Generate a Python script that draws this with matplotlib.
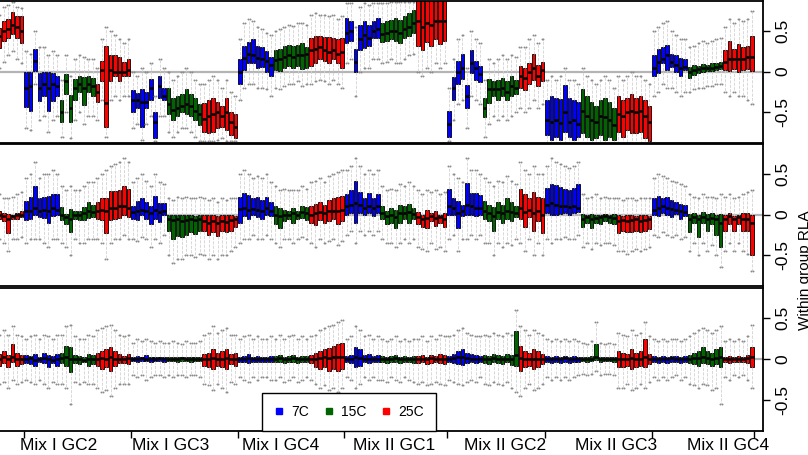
import numpy as np
import matplotlib.pyplot as plt
from matplotlib.lines import Line2D

plt.rcParams['font.family'] = ['Liberation Sans', 'DejaVu Sans']

groups = ['Mix I GC2', 'Mix I GC3', 'Mix I GC4', 'Mix II GC1',
          'Mix II GC2', 'Mix II GC3', 'Mix II GC4']
temps = ['7C', '15C', '25C']
temp_colors = ['blue', 'darkgreen', 'red']
label_x = [8.4, 33.4, 58.2, 83.6, 108.6, 133.6, 158.6]

# one row per sub-group: first row is the 25C tail of the group cut off at the left,
# then 7C / 15C / 25C for every group in `groups`

# ---- top panel ----
top_q3 = [
    [0.54, 0.62, 0.65, 0.74, 0.68, 0.68],
    [0.0, -0.01, 0.28, -0.02, -0.01, 0.0, -0.02, -0.05],
    [-0.35, -0.03, -0.29, -0.09, -0.05, -0.07, -0.06, -0.08],
    [-0.15, 0.13, 0.32, 0.2, 0.2, 0.18, 0.12, 0.15],
    [-0.23, -0.26, -0.21, -0.25, -0.09, -0.5, -0.05, -0.2],
    [-0.2, -0.32, -0.3, -0.28, -0.22, -0.28, -0.33, -0.4],
    [-0.39, -0.35, -0.33, -0.37, -0.43, -0.32, -0.5, -0.52],
    [0.16, 0.32, 0.36, 0.4, 0.32, 0.3, 0.25, 0.18],
    [0.26, 0.28, 0.31, 0.33, 0.31, 0.33, 0.35, 0.3],
    [0.42, 0.44, 0.44, 0.43, 0.43, 0.42, 0.4, 0.42],
    [0.66, 0.62, 0.28, 0.58, 0.62, 0.58, 0.62, 0.66],
    [0.6, 0.62, 0.64, 0.66, 0.64, 0.68, 0.72, 0.76],
    [0.95, 0.9, 0.95, 0.92, 0.95, 0.95, 0.92],
    [-0.48, -0.07, 0.13, 0.22, -0.17, 0.26, 0.13, 0.07],
    [-0.32, -0.09, -0.12, -0.1, -0.08, -0.12, -0.05, -0.1],
    [0.07, 0.05, 0.1, 0.22, 0.08, 0.12],
    [-0.35, -0.3, -0.33, -0.34, -0.17, -0.32, -0.35, -0.38],
    [-0.22, -0.3, -0.38, -0.42, -0.35, -0.32, -0.38, -0.45],
    [-0.3, -0.35, -0.33, -0.27, -0.32, -0.3, -0.35, -0.43],
    [0.2, 0.28, 0.3, 0.33, 0.22, 0.2, 0.17, 0.15],
    [0.06, 0.08, 0.07, 0.09, 0.08, 0.1, 0.1, 0.12],
    [0.26, 0.38, 0.28, 0.34, 0.3, 0.32, 0.44],
]
top_med = [
    [0.44, 0.5, 0.52, 0.58, 0.55, 0.5],
    [-0.2, -0.18, 0.13, -0.2, -0.15, -0.2, -0.15, -0.18],
    [-0.5, -0.12, -0.45, -0.2, -0.15, -0.2, -0.15, -0.18],
    [-0.25, 0.02, -0.39, 0.02, 0.0, 0.0, 0.0, 0.02],
    [-0.35, -0.35, -0.38, -0.37, -0.2, -0.62, -0.18, -0.3],
    [-0.4, -0.47, -0.45, -0.42, -0.4, -0.43, -0.48, -0.52],
    [-0.58, -0.55, -0.52, -0.5, -0.55, -0.5, -0.62, -0.68],
    [0.0, 0.17, 0.22, 0.2, 0.17, 0.16, 0.13, 0.08],
    [0.14, 0.16, 0.18, 0.2, 0.18, 0.2, 0.2, 0.22],
    [0.26, 0.28, 0.3, 0.26, 0.24, 0.26, 0.22, 0.24],
    [0.48, 0.5, 0.12, 0.4, 0.45, 0.42, 0.5, 0.52],
    [0.46, 0.48, 0.5, 0.5, 0.48, 0.52, 0.55, 0.6],
    [0.62, 0.55, 0.6, 0.58, 0.62, 0.62, 0.62],
    [-0.65, -0.2, 0.0, 0.05, -0.3, 0.1, 0.05, -0.03],
    [-0.45, -0.22, -0.22, -0.22, -0.2, -0.25, -0.18, -0.2],
    [-0.05, -0.08, 0.0, 0.05, -0.05, 0.02],
    [-0.6, -0.62, -0.6, -0.63, -0.5, -0.62, -0.6, -0.64],
    [-0.48, -0.55, -0.6, -0.62, -0.55, -0.56, -0.6, -0.66],
    [-0.52, -0.55, -0.5, -0.48, -0.5, -0.48, -0.55, -0.62],
    [0.05, 0.12, 0.15, 0.2, 0.12, 0.08, 0.04, 0.06],
    [0.0, 0.02, 0.03, 0.04, 0.05, 0.05, 0.06, 0.07],
    [0.12, 0.15, 0.15, 0.16, 0.16, 0.18, 0.18],
]
top_q1 = [
    [0.29, 0.38, 0.41, 0.46, 0.41, 0.35],
    [-0.44, -0.48, 0.01, -0.36, -0.3, -0.48, -0.36, -0.3],
    [-0.62, -0.27, -0.62, -0.35, -0.25, -0.41, -0.25, -0.3],
    [-0.38, -0.11, -0.68, -0.11, -0.05, -0.11, -0.06, -0.05],
    [-0.5, -0.45, -0.68, -0.45, -0.35, -0.82, -0.33, -0.35],
    [-0.52, -0.6, -0.55, -0.5, -0.52, -0.55, -0.6, -0.66],
    [-0.74, -0.76, -0.74, -0.7, -0.68, -0.72, -0.78, -0.82],
    [-0.15, 0.02, 0.1, 0.1, 0.04, 0.06, 0.0, -0.05],
    [0.02, 0.01, 0.05, 0.07, 0.05, 0.07, 0.03, 0.05],
    [0.07, 0.11, 0.15, 0.13, 0.11, 0.15, 0.11, 0.05],
    [0.35, 0.38, -0.01, 0.26, 0.29, 0.32, 0.42, 0.42],
    [0.36, 0.38, 0.4, 0.38, 0.35, 0.42, 0.44, 0.48],
    [0.32, 0.26, 0.36, 0.31, 0.4, 0.34, 0.38],
    [-0.8, -0.35, -0.15, -0.09, -0.45, -0.02, -0.1, -0.13],
    [-0.56, -0.39, -0.3, -0.35, -0.3, -0.35, -0.3, -0.28],
    [-0.2, -0.23, -0.15, -0.1, -0.18, -0.12],
    [-0.78, -0.84, -0.8, -0.84, -0.74, -0.8, -0.84, -0.8],
    [-0.76, -0.8, -0.84, -0.82, -0.78, -0.84, -0.8, -0.84],
    [-0.74, -0.8, -0.72, -0.76, -0.76, -0.74, -0.82, -0.86],
    [-0.05, -0.02, 0.1, 0.02, 0.06, 0.0, -0.06, 0.02],
    [-0.08, -0.04, -0.02, 0.0, 0.01, 0.01, 0.02, 0.03],
    [0.02, 0.01, 0.03, 0.0, 0.02, 0.03, 0.01],
]
top_hi = [
    [0.7, 0.8, 0.82, 0.86, 0.8, 0.78],
    [0.25, 0.22, 0.5, 0.3, 0.3, 0.2, 0.25, 0.2],
    [-0.1, 0.2, -0.05, 0.15, 0.2, 0.18, 0.15, 0.15],
    [0.05, 0.4, 0.55, 0.5, 0.45, 0.4, 0.35, 0.4],
    [0.0, -0.05, 0.05, 0.0, 0.1, -0.3, 0.15, 0.05],
    [0.0, -0.1, -0.05, 0.0, 0.05, 0.0, -0.1, -0.15],
    [-0.15, -0.1, -0.05, -0.1, -0.2, -0.1, -0.25, -0.3],
    [0.4, 0.6, 0.65, 0.62, 0.55, 0.52, 0.48, 0.45],
    [0.5, 0.52, 0.55, 0.58, 0.56, 0.6, 0.6, 0.58],
    [0.7, 0.72, 0.7, 0.7, 0.68, 0.7, 0.65, 0.68],
    [0.85, 0.85, 0.55, 0.8, 0.85, 0.82, 0.85, 0.85],
    [0.85, 0.85, 0.86, 0.86, 0.86, 0.86, 0.86, 0.86],
    [1.1, 1.1, 1.1, 1.1, 1.1, 1.1, 1.1],
    [-0.2, 0.15, 0.4, 0.45, 0.05, 0.5, 0.4, 0.35],
    [-0.1, 0.15, 0.1, 0.15, 0.2, 0.15, 0.2, 0.18],
    [0.3, 0.3, 0.4, 0.45, 0.35, 0.4],
    [-0.1, -0.05, -0.1, -0.05, 0.05, -0.1, -0.1, -0.15],
    [0.05, -0.05, -0.1, -0.15, -0.1, -0.05, -0.1, -0.2],
    [-0.05, -0.1, -0.05, 0.0, -0.05, -0.05, -0.1, -0.15],
    [0.5, 0.55, 0.6, 0.62, 0.5, 0.45, 0.4, 0.4],
    [0.3, 0.32, 0.35, 0.38, 0.35, 0.38, 0.4, 0.42],
    [0.55, 0.65, 0.6, 0.65, 0.62, 0.65, 0.75],
]
top_lo = [
    [0.05, 0.12, 0.2, 0.25, 0.15, 0.1],
    [-0.7, -0.72, -0.15, -0.6, -0.55, -0.75, -0.6, -0.55],
    [-0.8, -0.5, -0.82, -0.6, -0.5, -0.65, -0.55, -0.55],
    [-0.6, -0.35, -0.8, -0.35, -0.3, -0.35, -0.3, -0.3],
    [-0.7, -0.65, -0.84, -0.65, -0.55, -0.86, -0.55, -0.55],
    [-0.75, -0.8, -0.75, -0.7, -0.7, -0.75, -0.8, -0.85],
    [-0.85, -0.86, -0.85, -0.84, -0.82, -0.85, -0.86, -0.86],
    [-0.35, -0.2, -0.15, -0.15, -0.2, -0.2, -0.22, -0.3],
    [-0.2, -0.22, -0.18, -0.15, -0.15, -0.12, -0.18, -0.15],
    [-0.15, -0.12, -0.1, -0.12, -0.15, -0.1, -0.15, -0.2],
    [0.1, 0.15, -0.3, 0.0, 0.05, 0.05, 0.15, 0.15],
    [0.1, 0.12, 0.15, 0.1, 0.1, 0.15, 0.2, 0.22],
    [0.0, -0.05, 0.05, 0.0, 0.1, 0.05, 0.1],
    [-0.86, -0.6, -0.4, -0.35, -0.7, -0.3, -0.35, -0.4],
    [-0.8, -0.65, -0.55, -0.6, -0.55, -0.6, -0.55, -0.5],
    [-0.45, -0.5, -0.45, -0.35, -0.45, -0.4],
    [-0.95, -0.95, -0.95, -0.95, -0.95, -0.95, -0.95, -0.95],
    [-0.95, -0.95, -0.95, -0.95, -0.95, -0.95, -0.95, -0.95],
    [-0.95, -0.95, -0.95, -0.95, -0.95, -0.95, -0.95, -0.95],
    [-0.3, -0.25, -0.15, -0.2, -0.2, -0.25, -0.3, -0.25],
    [-0.25, -0.22, -0.2, -0.2, -0.18, -0.18, -0.15, -0.15],
    [-0.25, -0.3, -0.25, -0.3, -0.3, -0.35, -0.4],
]

# ---- middle panel ----
mid_q3 = [
    [0.05, 0.02, 0.01, 0.0, 0.02, 0.04],
    [0.17, 0.22, 0.35, 0.2, 0.22, 0.23, 0.25, 0.25],
    [0.09, 0.01, 0.07, 0.05, 0.05, 0.09, 0.15, 0.12],
    [0.15, 0.2, 0.2, 0.29, 0.29, 0.3, 0.35, 0.32],
    [0.1, 0.17, 0.2, 0.16, 0.11, 0.23, 0.14, 0.14],
    [0.0, -0.01, 0.0, -0.01, 0.0, -0.01, -0.02, 0.0],
    [-0.01, 0.0, -0.01, -0.02, 0.0, -0.01, 0.0, -0.02],
    [0.22, 0.26, 0.24, 0.2, 0.22, 0.18, 0.22, 0.16],
    [0.1, 0.08, 0.06, 0.05, 0.08, 0.05, 0.11, 0.09],
    [0.11, 0.13, 0.16, 0.12, 0.18, 0.2, 0.22, 0.23],
    [0.25, 0.3, 0.41, 0.28, 0.2, 0.27, 0.2, 0.25],
    [0.1, 0.05, 0.08, 0.06, 0.12, 0.1, 0.13, 0.08],
    [0.03, 0.0, 0.06, 0.02, 0.05, 0.0, 0.02],
    [0.32, 0.2, 0.17, 0.12, 0.39, 0.26, 0.26, 0.24],
    [0.17, 0.12, 0.09, 0.15, 0.12, 0.2, 0.15, 0.1],
    [0.32, 0.25, 0.21, 0.28, 0.22, 0.2],
    [0.33, 0.38, 0.36, 0.34, 0.32, 0.3, 0.33, 0.38],
    [0.01, 0.0, 0.01, 0.0, 0.0, 0.01, 0.0, 0.01],
    [-0.01, -0.02, 0.0, -0.01, -0.02, -0.01, 0.0, -0.02],
    [0.2, 0.23, 0.2, 0.22, 0.18, 0.16, 0.13, 0.12],
    [0.01, 0.02, 0.0, 0.03, 0.01, 0.02, 0.0, 0.01],
    [-0.01, 0.02, -0.02, 0.0, 0.02, 0.02, -0.01],
]
mid_med = [
    [0.0, -0.02, -0.05, -0.02, -0.01, 0.0],
    [0.05, 0.05, 0.08, 0.05, 0.06, 0.05, 0.08, 0.06],
    [0.0, -0.03, -0.05, 0.0, 0.0, 0.02, 0.04, 0.03],
    [0.04, 0.06, 0.05, 0.08, 0.08, 0.1, 0.1, 0.08],
    [0.03, 0.05, 0.06, 0.04, 0.02, 0.06, 0.03, 0.05],
    [-0.05, -0.07, -0.06, -0.08, -0.07, -0.06, -0.07, -0.05],
    [-0.08, -0.1, -0.08, -0.1, -0.08, -0.09, -0.07, -0.06],
    [0.07, 0.08, 0.06, 0.07, 0.06, 0.05, 0.08, 0.05],
    [0.0, -0.02, 0.0, 0.0, 0.02, 0.0, 0.03, 0.02],
    [0.0, 0.02, 0.03, 0.02, 0.04, 0.05, 0.04, 0.06],
    [0.1, 0.12, 0.14, 0.12, 0.08, 0.1, 0.08, 0.1],
    [0.02, -0.02, 0.0, -0.03, 0.02, 0.02, 0.03, 0.01],
    [-0.03, -0.05, -0.04, -0.02, -0.04, -0.03, -0.05],
    [0.1, 0.08, 0.02, 0.05, 0.12, 0.1, 0.08, 0.08],
    [0.05, 0.02, -0.02, 0.03, 0.02, 0.05, 0.03, 0.02],
    [0.08, 0.03, 0.06, 0.02, 0.04, 0.0],
    [0.12, 0.14, 0.12, 0.1, 0.1, 0.09, 0.1, 0.08],
    [-0.05, -0.03, -0.05, -0.04, -0.03, -0.02, -0.03, -0.04],
    [-0.08, -0.07, -0.08, -0.07, -0.06, -0.08, -0.07, -0.05],
    [0.06, 0.08, 0.1, 0.08, 0.07, 0.06, 0.04, 0.03],
    [-0.05, -0.03, -0.06, -0.03, -0.05, -0.04, -0.06, -0.1],
    [-0.05, -0.02, -0.06, -0.03, -0.05, -0.05, -0.1],
]
mid_q1 = [
    [-0.05, -0.08, -0.23, -0.06, -0.05, -0.03],
    [-0.07, -0.05, -0.01, -0.03, -0.04, -0.1, -0.02, 0.0],
    [-0.07, -0.12, -0.22, -0.05, -0.07, -0.07, -0.04, -0.03],
    [-0.05, -0.07, -0.23, -0.07, -0.05, -0.04, -0.01, -0.03],
    [-0.05, -0.07, -0.01, -0.05, -0.11, -0.05, -0.09, 0.0],
    [-0.2, -0.3, -0.26, -0.28, -0.25, -0.22, -0.24, -0.2],
    [-0.2, -0.25, -0.22, -0.26, -0.2, -0.22, -0.2, -0.15],
    [-0.1, -0.02, -0.05, 0.0, -0.03, -0.06, 0.0, -0.02],
    [-0.12, -0.16, -0.08, -0.06, -0.1, -0.06, -0.04, -0.07],
    [-0.1, -0.13, -0.07, -0.1, -0.08, -0.06, -0.12, -0.08],
    [0.0, 0.02, -0.1, 0.02, 0.0, 0.02, -0.02, 0.02],
    [-0.05, -0.12, -0.1, -0.16, -0.1, -0.06, -0.1, -0.05],
    [-0.12, -0.15, -0.17, -0.08, -0.14, -0.1, -0.15],
    [-0.01, 0.0, -0.17, -0.02, -0.01, 0.0, -0.02, 0.0],
    [-0.05, -0.08, -0.2, -0.05, -0.1, -0.05, -0.08, -0.03],
    [-0.05, -0.15, -0.03, -0.2, -0.08, -0.23],
    [0.02, 0.0, -0.01, 0.01, 0.02, 0.0, 0.02, 0.03],
    [-0.15, -0.1, -0.17, -0.1, -0.12, -0.08, -0.1, -0.12],
    [-0.23, -0.2, -0.22, -0.21, -0.2, -0.22, -0.2, -0.18],
    [0.0, -0.02, 0.02, 0.0, -0.03, 0.01, -0.05, -0.02],
    [-0.22, -0.1, -0.28, -0.1, -0.2, -0.12, -0.25, -0.4],
    [-0.2, -0.12, -0.2, -0.12, -0.2, -0.2, -0.5],
]
mid_hi = [
    [0.25, 0.2, 0.2, 0.22, 0.25, 0.28],
    [0.45, 0.5, 0.65, 0.45, 0.5, 0.5, 0.55, 0.5],
    [0.35, 0.3, 0.35, 0.3, 0.3, 0.35, 0.4, 0.4],
    [0.45, 0.5, 0.55, 0.6, 0.62, 0.65, 0.7, 0.65],
    [0.4, 0.45, 0.5, 0.42, 0.35, 0.5, 0.4, 0.38],
    [0.2, 0.18, 0.22, 0.2, 0.22, 0.2, 0.2, 0.22],
    [0.2, 0.18, 0.2, 0.15, 0.2, 0.18, 0.2, 0.2],
    [0.5, 0.55, 0.5, 0.45, 0.48, 0.45, 0.5, 0.4],
    [0.35, 0.3, 0.32, 0.3, 0.3, 0.3, 0.35, 0.32],
    [0.4, 0.42, 0.45, 0.4, 0.48, 0.5, 0.52, 0.55],
    [0.55, 0.6, 0.7, 0.6, 0.5, 0.55, 0.5, 0.55],
    [0.35, 0.3, 0.32, 0.3, 0.38, 0.35, 0.4, 0.35],
    [0.3, 0.25, 0.3, 0.28, 0.3, 0.25, 0.28],
    [0.6, 0.5, 0.45, 0.4, 0.7, 0.55, 0.55, 0.5],
    [0.45, 0.4, 0.35, 0.42, 0.4, 0.48, 0.42, 0.38],
    [0.65, 0.55, 0.5, 0.6, 0.5, 0.5],
    [0.6, 0.7, 0.65, 0.62, 0.6, 0.58, 0.6, 0.65],
    [0.25, 0.2, 0.22, 0.25, 0.2, 0.22, 0.2, 0.2],
    [0.2, 0.18, 0.2, 0.2, 0.18, 0.2, 0.2, 0.2],
    [0.45, 0.5, 0.48, 0.45, 0.42, 0.4, 0.38, 0.35],
    [0.25, 0.22, 0.2, 0.25, 0.22, 0.22, 0.2, 0.25],
    [0.22, 0.25, 0.2, 0.22, 0.25, 0.28, 0.3],
]
mid_lo = [
    [-0.3, -0.35, -0.45, -0.3, -0.3, -0.28],
    [-0.35, -0.3, -0.3, -0.3, -0.35, -0.4, -0.3, -0.3],
    [-0.35, -0.4, -0.5, -0.3, -0.35, -0.35, -0.3, -0.3],
    [-0.3, -0.35, -0.55, -0.35, -0.3, -0.3, -0.25, -0.3],
    [-0.3, -0.32, -0.28, -0.3, -0.4, -0.3, -0.35, -0.25],
    [-0.5, -0.6, -0.55, -0.55, -0.5, -0.5, -0.52, -0.48],
    [-0.5, -0.55, -0.5, -0.55, -0.5, -0.5, -0.45, -0.4],
    [-0.35, -0.3, -0.3, -0.25, -0.3, -0.3, -0.25, -0.3],
    [-0.35, -0.4, -0.3, -0.3, -0.35, -0.3, -0.28, -0.3],
    [-0.35, -0.4, -0.3, -0.35, -0.32, -0.3, -0.38, -0.32],
    [-0.25, -0.2, -0.35, -0.2, -0.25, -0.2, -0.25, -0.2],
    [-0.3, -0.35, -0.35, -0.4, -0.35, -0.3, -0.35, -0.3],
    [-0.4, -0.42, -0.45, -0.35, -0.42, -0.4, -0.45],
    [-0.3, -0.25, -0.45, -0.3, -0.3, -0.25, -0.3, -0.25],
    [-0.35, -0.35, -0.5, -0.35, -0.4, -0.35, -0.38, -0.3],
    [-0.35, -0.45, -0.3, -0.5, -0.35, -0.5],
    [-0.3, -0.35, -0.3, -0.3, -0.28, -0.3, -0.3, -0.25],
    [-0.4, -0.35, -0.42, -0.35, -0.38, -0.35, -0.35, -0.38],
    [-0.45, -0.45, -0.48, -0.45, -0.42, -0.45, -0.42, -0.4],
    [-0.25, -0.28, -0.22, -0.25, -0.28, -0.25, -0.3, -0.28],
    [-0.45, -0.35, -0.5, -0.35, -0.45, -0.38, -0.5, -0.65],
    [-0.45, -0.35, -0.45, -0.35, -0.45, -0.48, -0.7],
]

# ---- bottom panel ----
bot_q3 = [
    [0.06, 0.1, 0.05, 0.18, 0.08, 0.05],
    [0.05, 0.04, 0.06, 0.03, 0.08, 0.05, 0.04, 0.06],
    [0.08, 0.16, 0.15, 0.05, 0.04, 0.03, 0.06, 0.05],
    [0.08, 0.1, 0.12, 0.15, 0.1, 0.06, 0.04, 0.06],
    [0.03, 0.04, 0.03, 0.05, 0.03, 0.02, 0.03, 0.03],
    [0.02, 0.03, 0.02, 0.02, 0.03, 0.02, 0.02, 0.03],
    [0.06, 0.08, 0.12, 0.08, 0.1, 0.12, 0.06, 0.08],
    [0.03, 0.04, 0.06, 0.03, 0.04, 0.03, 0.03, 0.04],
    [0.04, 0.05, 0.03, 0.04, 0.05, 0.03, 0.04, 0.04],
    [0.05, 0.08, 0.1, 0.12, 0.14, 0.16, 0.18, 0.2],
    [0.04, 0.05, 0.15, 0.12, 0.05, 0.06, 0.04, 0.05],
    [0.04, 0.03, 0.04, 0.05, 0.03, 0.04, 0.03, 0.04],
    [0.04, 0.05, 0.03, 0.05, 0.04, 0.06, 0.05],
    [0.04, 0.06, 0.1, 0.12, 0.08, 0.06, 0.05, 0.04],
    [0.05, 0.04, 0.06, 0.05, 0.04, 0.06, 0.05, 0.34],
    [0.16, 0.1, 0.08, 0.12, 0.1, 0.06],
    [0.04, 0.03, 0.04, 0.03, 0.04, 0.03, 0.04, 0.03],
    [0.03, 0.02, 0.04, 0.18, 0.03, 0.02, 0.03, 0.02],
    [0.1, 0.08, 0.06, 0.12, 0.08, 0.1, 0.24, 0.06],
    [0.04, 0.03, 0.04, 0.03, 0.04, 0.04, 0.03, 0.04],
    [0.05, 0.08, 0.1, 0.15, 0.1, 0.08, 0.12, 0.15],
    [0.03, 0.04, 0.03, 0.04, 0.03, 0.05, 0.15],
]
bot_med = [
    [0.0, 0.02, 0.0, 0.02, 0.0, 0.0],
    [0.0, 0.01, -0.01, 0.0, 0.01, 0.0, -0.01, 0.0],
    [0.01, 0.02, 0.0, 0.0, 0.0, -0.01, 0.0, 0.0],
    [0.0, 0.01, 0.0, 0.02, 0.0, 0.0, 0.0, 0.01],
    [0.0, 0.0, 0.01, 0.0, 0.0, 0.0, 0.01, 0.0],
    [0.0, 0.0, 0.0, 0.01, 0.0, 0.0, 0.0, 0.0],
    [0.0, 0.0, 0.01, 0.0, 0.0, 0.01, 0.0, 0.0],
    [0.0, 0.0, 0.01, 0.0, 0.0, 0.0, 0.0, 0.0],
    [0.0, 0.01, 0.0, 0.0, 0.01, 0.0, 0.0, 0.0],
    [0.0, 0.0, 0.01, 0.02, 0.01, 0.02, 0.02, 0.03],
    [0.0, 0.0, 0.02, 0.01, 0.0, 0.0, 0.0, 0.0],
    [0.0, 0.0, 0.0, 0.01, 0.0, 0.0, 0.0, 0.0],
    [0.0, 0.0, 0.0, 0.01, 0.0, 0.0, 0.0],
    [0.0, 0.01, 0.02, 0.02, 0.01, 0.0, 0.0, 0.0],
    [0.0, 0.0, 0.01, 0.0, 0.0, 0.0, 0.0, 0.05],
    [0.01, 0.0, 0.0, 0.0, 0.0, 0.0],
    [0.0, 0.0, 0.0, 0.0, 0.01, 0.0, 0.0, 0.0],
    [0.0, 0.0, 0.0, 0.02, 0.0, 0.0, 0.0, 0.0],
    [0.0, 0.0, 0.0, 0.01, 0.0, 0.0, 0.02, 0.0],
    [0.0, 0.0, 0.0, 0.0, 0.01, 0.0, 0.0, 0.0],
    [0.0, 0.01, 0.01, 0.02, 0.01, 0.0, 0.01, 0.02],
    [0.0, 0.0, 0.0, 0.0, 0.0, 0.01, 0.02],
]
bot_q1 = [
    [-0.08, -0.05, -0.1, -0.04, -0.08, -0.06],
    [-0.05, -0.06, -0.08, -0.04, -0.05, -0.1, -0.05, -0.08],
    [-0.05, -0.08, -0.16, -0.05, -0.06, -0.04, -0.08, -0.06],
    [-0.08, -0.12, -0.1, -0.15, -0.08, -0.05, -0.05, -0.06],
    [-0.02, -0.03, -0.02, -0.02, -0.03, -0.02, -0.02, -0.03],
    [-0.02, -0.02, -0.03, -0.02, -0.02, -0.03, -0.02, -0.02],
    [-0.08, -0.1, -0.12, -0.08, -0.1, -0.12, -0.06, -0.08],
    [-0.03, -0.04, -0.05, -0.03, -0.04, -0.03, -0.03, -0.03],
    [-0.04, -0.03, -0.05, -0.04, -0.03, -0.05, -0.04, -0.03],
    [-0.05, -0.1, -0.12, -0.1, -0.14, -0.12, -0.15, -0.12],
    [-0.04, -0.05, -0.1, -0.08, -0.04, -0.05, -0.03, -0.04],
    [-0.04, -0.05, -0.03, -0.04, -0.05, -0.03, -0.04, -0.05],
    [-0.05, -0.04, -0.06, -0.05, -0.04, -0.05, -0.06],
    [-0.04, -0.05, -0.06, -0.07, -0.05, -0.04, -0.05, -0.03],
    [-0.05, -0.06, -0.04, -0.05, -0.06, -0.04, -0.07, -0.08],
    [-0.15, -0.1, -0.08, -0.12, -0.1, -0.06],
    [-0.04, -0.05, -0.04, -0.05, -0.04, -0.05, -0.04, -0.03],
    [-0.02, -0.03, -0.02, -0.01, -0.03, -0.02, -0.02, -0.03],
    [-0.1, -0.1, -0.08, -0.12, -0.1, -0.08, -0.1, -0.06],
    [-0.04, -0.05, -0.04, -0.05, -0.04, -0.03, -0.05, -0.04],
    [-0.05, -0.06, -0.08, -0.05, -0.06, -0.08, -0.06, -0.1],
    [-0.04, -0.05, -0.03, -0.04, -0.03, -0.05, -0.1],
]
bot_hi = [
    [0.3, 0.35, 0.3, 0.4, 0.3, 0.28],
    [0.25, 0.28, 0.3, 0.25, 0.3, 0.28, 0.25, 0.3],
    [0.3, 0.4, 0.42, 0.28, 0.25, 0.25, 0.3, 0.28],
    [0.35, 0.38, 0.4, 0.42, 0.35, 0.3, 0.28, 0.3],
    [0.2, 0.25, 0.22, 0.25, 0.22, 0.2, 0.22, 0.2],
    [0.2, 0.22, 0.2, 0.18, 0.22, 0.2, 0.2, 0.22],
    [0.3, 0.32, 0.4, 0.32, 0.35, 0.38, 0.3, 0.3],
    [0.25, 0.28, 0.3, 0.25, 0.28, 0.25, 0.25, 0.28],
    [0.25, 0.3, 0.25, 0.28, 0.3, 0.25, 0.28, 0.25],
    [0.28, 0.3, 0.35, 0.38, 0.4, 0.42, 0.45, 0.48],
    [0.25, 0.28, 0.4, 0.35, 0.28, 0.3, 0.25, 0.28],
    [0.25, 0.22, 0.25, 0.28, 0.22, 0.25, 0.22, 0.25],
    [0.25, 0.28, 0.22, 0.28, 0.25, 0.3, 0.28],
    [0.28, 0.3, 0.35, 0.38, 0.32, 0.3, 0.28, 0.28],
    [0.3, 0.28, 0.32, 0.3, 0.28, 0.32, 0.3, 0.6],
    [0.4, 0.35, 0.3, 0.35, 0.32, 0.3],
    [0.25, 0.22, 0.25, 0.22, 0.25, 0.22, 0.25, 0.22],
    [0.2, 0.18, 0.22, 0.45, 0.2, 0.18, 0.2, 0.18],
    [0.32, 0.3, 0.28, 0.35, 0.3, 0.32, 0.45, 0.28],
    [0.25, 0.22, 0.25, 0.22, 0.25, 0.25, 0.22, 0.25],
    [0.28, 0.32, 0.35, 0.38, 0.35, 0.32, 0.35, 0.4],
    [0.22, 0.25, 0.22, 0.25, 0.22, 0.28, 0.42],
]
bot_lo = [
    [-0.3, -0.28, -0.35, -0.25, -0.3, -0.28],
    [-0.25, -0.28, -0.3, -0.25, -0.3, -0.35, -0.28, -0.3],
    [-0.3, -0.35, -0.55, -0.28, -0.3, -0.28, -0.3, -0.3],
    [-0.35, -0.4, -0.38, -0.45, -0.35, -0.3, -0.3, -0.3],
    [-0.2, -0.22, -0.2, -0.25, -0.22, -0.2, -0.2, -0.22],
    [-0.2, -0.22, -0.2, -0.2, -0.22, -0.2, -0.2, -0.22],
    [-0.3, -0.32, -0.38, -0.3, -0.35, -0.4, -0.28, -0.3],
    [-0.22, -0.25, -0.28, -0.22, -0.25, -0.22, -0.22, -0.25],
    [-0.25, -0.22, -0.28, -0.25, -0.22, -0.28, -0.25, -0.22],
    [-0.25, -0.3, -0.35, -0.32, -0.38, -0.35, -0.4, -0.35],
    [-0.22, -0.25, -0.35, -0.3, -0.22, -0.25, -0.22, -0.25],
    [-0.25, -0.28, -0.22, -0.25, -0.28, -0.22, -0.25, -0.28],
    [-0.3, -0.28, -0.32, -0.3, -0.28, -0.3, -0.32],
    [-0.25, -0.28, -0.3, -0.32, -0.28, -0.25, -0.28, -0.22],
    [-0.3, -0.32, -0.28, -0.3, -0.32, -0.28, -0.35, -0.4],
    [-0.45, -0.35, -0.3, -0.38, -0.35, -0.3],
    [-0.22, -0.25, -0.22, -0.25, -0.22, -0.25, -0.22, -0.2],
    [-0.18, -0.2, -0.18, -0.15, -0.2, -0.18, -0.18, -0.2],
    [-0.35, -0.35, -0.3, -0.38, -0.35, -0.3, -0.35, -0.28],
    [-0.22, -0.25, -0.22, -0.25, -0.22, -0.2, -0.25, -0.22],
    [-0.3, -0.32, -0.35, -0.3, -0.32, -0.38, -0.35, -0.55],
    [-0.22, -0.25, -0.2, -0.22, -0.2, -0.25, -0.35],
]


def draw_panel(ax, q1, med, q3, lo, hi):
    counts = [len(m) for m in med]
    ax.axhline(0, color='#b4b4b4', lw=1.6, zorder=0)
    pos = 1 - counts[0]
    for k in range(len(med)):
        colour = temp_colors[(k + 2) % 3]
        stats = [dict(med=med[k][j], q1=q1[k][j], q3=q3[k][j],
                      whislo=lo[k][j], whishi=hi[k][j], fliers=[])
                 for j in range(counts[k])]
        ax.bxp(stats, positions=np.arange(pos, pos + counts[k]), widths=0.8,
               patch_artist=True, manage_ticks=False,
               boxprops=dict(facecolor=colour, edgecolor='black', lw=0.6),
               medianprops=dict(color='black', lw=1.8),
               whiskerprops=dict(color='#d2d2d2', ls='--', lw=0.6),
               capprops=dict(ls='none', marker='o', ms=1.4, color='#8c8c8c',
                             markeredgewidth=0))
        pos += counts[k]
    # group boundaries: after the cut-off tail, then every three sub-groups
    edges = [0.5]
    for g in range(len(groups)):
        edges.append(edges[-1] + sum(counts[1 + 3 * g:4 + 3 * g]))
    ax.set_xlim(0.5 - counts[0] + 0.65, edges[-1] + 2.0)
    ax.set_ylim(-0.88, 0.87)
    ax.yaxis.tick_right()
    ax.set_yticks([-0.5, 0, 0.5])
    ax.set_yticklabels(['-0.5', '0', '0.5'])
    ax.tick_params(axis='y', length=5, width=1, labelsize=12.5, pad=4)
    for lab in ax.get_yticklabels():
        lab.set_rotation(90)
        lab.set_va('center')
    ax.spines['left'].set_visible(False)
    for s in ['top', 'right', 'bottom']:
        ax.spines[s].set_linewidth(1.3)
    ax.set_facecolor('white')
    return edges


fig = plt.figure(figsize=(8.08, 4.55), dpi=100)
W = 763 / 808
ax_top = fig.add_axes([0, 1 - 143 / 455, W, 142 / 455])
ax_mid = fig.add_axes([0, 1 - 286 / 455, W, 142 / 455])
ax_bot = fig.add_axes([0, 1 - 431 / 455, W, 143 / 455])

draw_panel(ax_top, top_q1, top_med, top_q3, top_lo, top_hi)
draw_panel(ax_mid, mid_q1, mid_med, mid_q3, mid_lo, mid_hi)
edges = draw_panel(ax_bot, bot_q1, bot_med, bot_q3, bot_lo, bot_hi)

for ax in (ax_top, ax_mid):
    ax.set_xticks([])

ax_bot.set_xticks(edges)
ax_bot.set_xticklabels([''] * len(edges))
ax_bot.tick_params(axis='x', which='major', length=5, width=1)
ax_bot.set_xticks(label_x, minor=True)
ax_bot.set_xticklabels(groups, minor=True)
ax_bot.tick_params(axis='x', which='minor', length=0, labelsize=12.5, pad=5)

handles = [Line2D([], [], ls='none', marker='s', ms=4, color=c) for c in temp_colors]
leg = ax_bot.legend(handles, temps, loc='lower left', bbox_to_anchor=(0.343, 0.0),
                    ncol=3, fontsize=10, frameon=True, fancybox=False,
                    edgecolor='black', framealpha=1, borderpad=0.85,
                    handlelength=0.8, handletextpad=0.5, columnspacing=1.0,
                    borderaxespad=0)
leg.get_frame().set_linewidth(1.0)

fig.text(805 / 808, 1 - 270 / 455, 'Within group RLA', rotation=90,
         ha='center', va='center', fontsize=11)

fig.savefig('out.png', dpi=100)
